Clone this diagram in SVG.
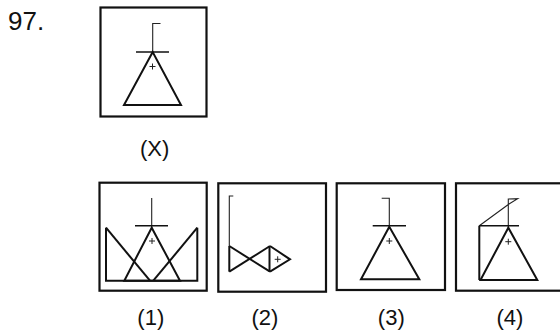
<svg xmlns="http://www.w3.org/2000/svg" width="560" height="332" viewBox="0 0 560 332">
<style>
.box{fill:none;stroke:#111;stroke-width:2.2}
.thk{fill:none;stroke:#111;stroke-width:2;stroke-linejoin:miter}
.thn{fill:none;stroke:#222;stroke-width:1.1}
.bar{fill:none;stroke:#111;stroke-width:1.6}
.pl{fill:none;stroke:#222;stroke-width:1}
text{font-family:"Liberation Sans",Arial,sans-serif;fill:#111}
.lab{font-size:22px;text-anchor:middle}
</style>
<rect width="560" height="332" fill="#fff"/>
<text x="8" y="30" font-size="26">97.</text>
<g id="figX">
<rect class="box" x="100.5" y="7.5" width="106" height="109"/>
<polyline class="thn" points="160.5,23.5 152.7,23.5 152.7,52"/>
<line class="bar" x1="136" y1="52" x2="169" y2="52"/>
<polygon class="thk" points="152.7,52 124,105 181,105"/>
<path class="pl" d="M149.5,66.5h6M152.5,63.5v6"/>
<text class="lab" x="154.7" y="156" font-size="23">(X)</text>
</g>
<g id="fig1">
<rect class="box" x="99.5" y="182.7" width="107.2" height="108"/>
<polyline class="thk" points="106,227.7 106,280.7 197.3,280.7 197.3,227.7"/>
<line class="thk" x1="106" y1="227.7" x2="150" y2="280.7"/>
<line class="thk" x1="197.3" y1="227.7" x2="153.3" y2="280.7"/>
<line class="thn" x1="151.7" y1="198" x2="151.7" y2="227.7"/>
<line class="bar" x1="135" y1="225.7" x2="168" y2="225.7"/>
<polygon class="thk" points="151.7,227.7 124.3,280.7 180,280.7"/>
<path class="pl" d="M149,241h6M152,238v6"/>
<text class="lab" x="150.8" y="324.5">(1)</text>
</g>
<g id="fig2">
<rect class="box" x="218.3" y="183.3" width="107.7" height="108.4"/>
<polyline class="thn" points="233.3,196 229.3,196 229.3,246"/>
<line class="thk" x1="229.3" y1="246" x2="229.3" y2="271.7"/>
<line class="thk" x1="229.3" y1="246" x2="270" y2="271.7"/>
<line class="thk" x1="229.3" y1="271.7" x2="270" y2="246"/>
<polyline class="thk" points="270,246 290,259.3 270,271.7"/>
<line class="thk" x1="269.5" y1="246" x2="269.5" y2="271.7"/>
<path class="pl" d="M274.7,259.3h6M277.7,256.3v6"/>
<text class="lab" x="265" y="324.5">(2)</text>
</g>
<g id="fig3">
<rect class="box" x="336.7" y="183.3" width="108.3" height="106.7"/>
<polyline class="thn" points="381.7,198.3 389.3,198.3 389.3,226.7"/>
<line class="bar" x1="372.7" y1="225.7" x2="406" y2="225.7"/>
<polygon class="thk" points="389.3,226.7 361,279.3 419.3,279.3"/>
<path class="pl" d="M386.3,241h6M389.3,238v6"/>
<text class="lab" x="391.3" y="324.5">(3)</text>
</g>
<g id="fig4">
<rect class="box" x="456" y="183.3" width="110" height="107.4"/>
<polyline class="thn" points="508.3,227.7 508.3,199 517.7,198.7 509,204 479.3,225.7"/>
<line class="thk" x1="479.3" y1="225.7" x2="479.3" y2="280"/>
<line class="bar" x1="479.3" y1="225.7" x2="519" y2="225.7"/>
<polygon class="thk" points="508.3,227.7 480.5,280 537.3,280"/>
<path class="pl" d="M505.3,241.7h6M508.3,238.7v6"/>
<text class="lab" x="510" y="324.5">(4)</text>
</g>
</svg>
